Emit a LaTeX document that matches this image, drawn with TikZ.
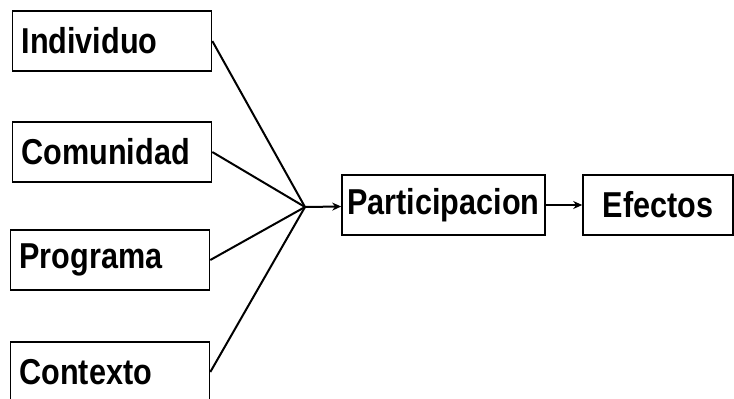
\documentclass[tikz,border=0pt]{standalone}
\usepackage{fontspec}
\setmainfont[FakeStretch=0.85]{Liberation Sans}
\usepackage{tikz}
\usetikzlibrary{arrows.meta,positioning}

\begin{document}
\begin{tikzpicture}[
    x=0.5pt, y=-0.5pt,
    factor/.style={draw, line width=0.8pt, text width=181*0.5pt, align=left, inner xsep=4.5pt, minimum height=30pt, font=\fontsize{18}{20}\selectfont\bfseries},
    result/.style={draw, line width=0.8pt, minimum height=30pt, inner xsep=0pt, font=\fontsize{18}{20}\selectfont\bfseries},
    link/.style={line width=1pt},
    arrow/.style={->, line width=1pt, >={Stealth[length=4.5pt,width=4pt]}}
]
\useasboundingbox (0,0) rectangle (734,398);

\node[factor] (indiv) at (112,41) {Individuo};
\node[factor] (comun) at (112,152) {Comunidad};
\node[factor] (progr) at (110,260) {Programa};
\node[factor] (conte) at (110,372) {Contexto};

\coordinate (hub) at (305,207);

\node[result, minimum width=203*0.5pt] (part) at (443.5,205) {Participacion};
\node[result, minimum width=150*0.5pt] (efect) at (658,205) {Efectos};

\draw[link] (indiv.east) -- (hub);
\draw[link] (comun.east) -- (hub);
\draw[link] (progr.east) -- (hub);
\draw[link] (conte.east) -- (hub);

\draw[arrow] (hub) -- (part);
\draw[arrow] (part) -- (efect);
\end{tikzpicture}
\end{document}
